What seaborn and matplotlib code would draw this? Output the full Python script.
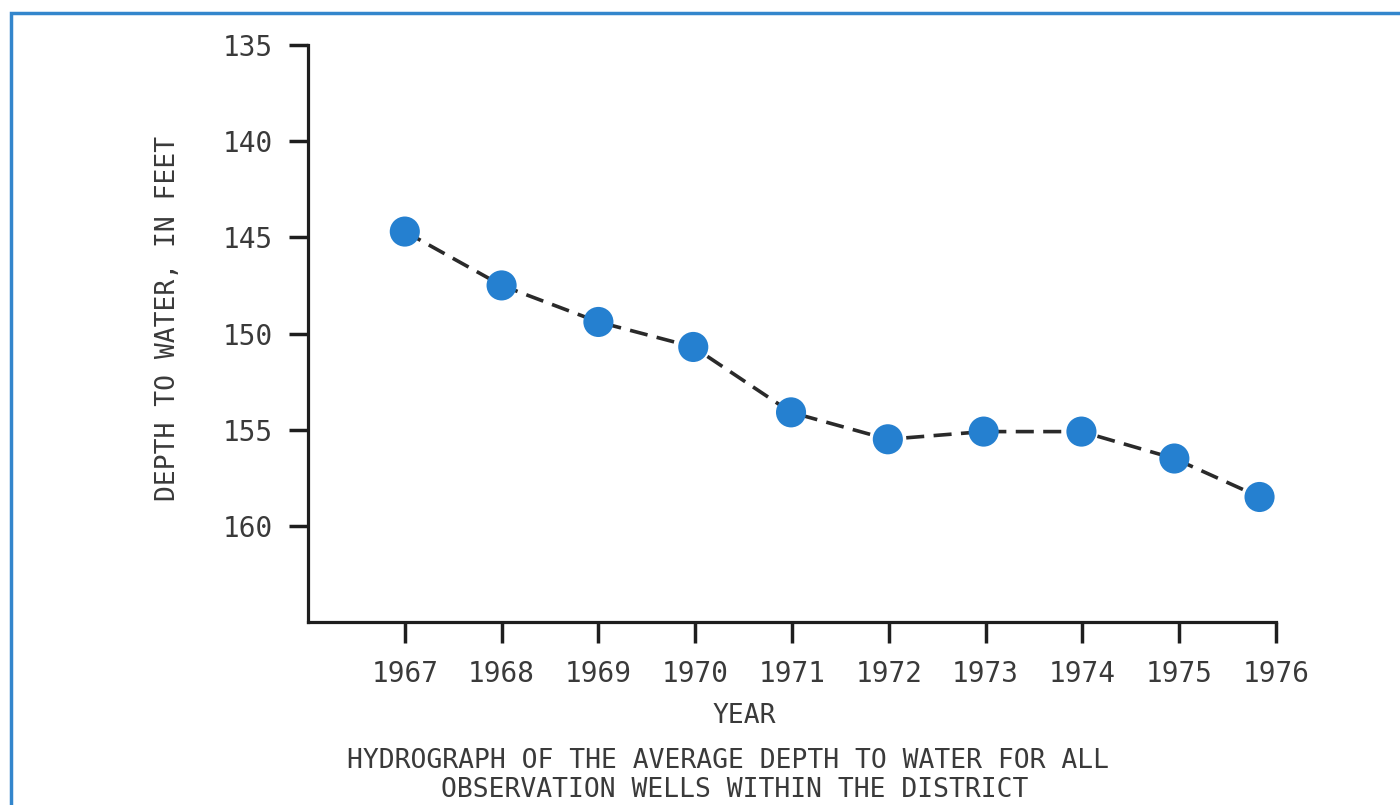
import matplotlib
matplotlib.use('Agg')
import matplotlib.pyplot as plt
import matplotlib.patches as patches
import seaborn as sns
import pandas as pd

years = [1967, 1968, 1969, 1970, 1971, 1972, 1973, 1974, 1975, 1976]
year_pos = [1967.0, 1968.0, 1969.0, 1969.98, 1970.99, 1971.99, 1972.98, 1973.99, 1974.95, 1975.83]
depth_ft = [144.7, 147.5, 149.4, 150.7, 154.1, 155.5, 155.1, 155.1, 156.5, 158.5]
y_ticks = [135, 140, 145, 150, 155, 160]

df = pd.DataFrame({'year': year_pos, 'depth': depth_ft})

sns.set_style("white")
plt.rcParams['font.family'] = ['DejaVu Sans Mono', 'DejaVu Sans']
text_col = '#3a3a3a'
dot_col = '#2580d0'

fig = plt.figure(figsize=(14, 8.05), dpi=100)
ax = fig.add_axes([308 / 1400, 1 - 622 / 805, 968 / 1400, 577 / 805])

sns.lineplot(data=df, x='year', y='depth', ax=ax, color='#2a2a2a', linewidth=2.6,
             dashes=False, zorder=2)
ax.lines[0].set_dashes([5.0, 2.6])
sns.scatterplot(data=df, x='year', y='depth', ax=ax, s=470, color=dot_col,
                edgecolor='none', zorder=3)

ax.set_xlim(1966, 1976)
ax.set_ylim(165, 135)
ax.set_xticks(years)
ax.set_xticklabels([str(y) for y in years])
ax.set_yticks(y_ticks)
ax.set_xlabel('')
ax.set_ylabel('')

for side in ['top', 'right']:
    ax.spines[side].set_visible(False)
for side in ['left', 'bottom']:
    ax.spines[side].set_linewidth(2.3)
    ax.spines[side].set_color('#1e1e1e')

ax.tick_params(axis='y', direction='out', length=14, width=2.5, color='#1e1e1e',
               labelsize=20, labelcolor=text_col, pad=11, left=True)
ax.tick_params(axis='x', direction='out', length=15, width=2.5, color='#1e1e1e',
               labelsize=20, labelcolor=text_col, pad=12, bottom=True)

fig.text(168 / 1400, 1 - 318 / 805, 'DEPTH TO WATER, IN FEET', rotation=90,
         ha='center', va='center', fontsize=19, color=text_col)
fig.text(744 / 1400, 1 - 716 / 805, 'YEAR', ha='center', va='center',
         fontsize=19, color=text_col)
fig.text(728 / 1400, 1 - 761 / 805, 'HYDROGRAPH OF THE AVERAGE DEPTH TO WATER FOR ALL',
         ha='center', va='center', fontsize=19, color=text_col)
fig.text(735 / 1400, 1 - 790 / 805, 'OBSERVATION WELLS WITHIN THE DISTRICT',
         ha='center', va='center', fontsize=19, color=text_col)

# blue frame of the scanned page
frame = patches.Rectangle((11 / 1400, -0.1), 1.2, 1 - 13 / 805 + 0.1,
                          transform=fig.transFigure, fill=False,
                          edgecolor='#3386cc', linewidth=2.5, clip_on=False)
fig.patches.append(frame)

fig.savefig('out.png', dpi=100)
plt.close(fig)
